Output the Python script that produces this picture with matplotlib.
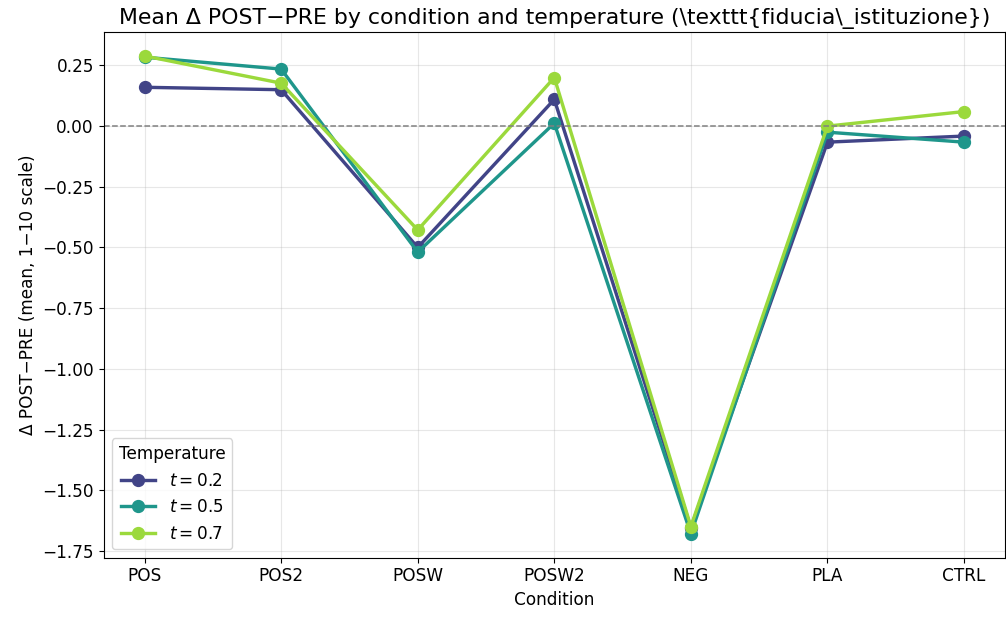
import matplotlib
matplotlib.use("Agg")
import matplotlib.pyplot as plt

conditions = ["POS", "POS2", "POSW", "POSW2", "NEG", "PLA", "CTRL"]
temps = ["0.2", "0.5", "0.7"]
delta_t02 = [0.16, 0.15, -0.50, 0.11, -1.655, -0.066, -0.041]
delta_t05 = [0.284, 0.235, -0.519, 0.012, -1.68, -0.025, -0.066]
delta_t07 = [0.289, 0.177, -0.428, 0.20, -1.65, 0.0, 0.06]
colors = ["#414487", "#1f968b", "#9bd93c"]

s = 1.22
plt.rcParams["font.size"] = 10 * s

fig, ax = plt.subplots(figsize=(10.06, 6.17), dpi=100)
fig.subplots_adjust(left=0.103, right=0.999, top=0.948, bottom=0.096)

x = list(range(len(conditions)))
for t, vals, c in zip(temps, [delta_t02, delta_t05, delta_t07], colors):
    ax.plot(x, vals, marker="o", color=c, lw=2.0 * s, markersize=7.0 * s,
            label=f"$t={t}$")

ax.axhline(0, color="gray", ls="--", lw=0.9 * s)
ax.set_xticks(x)
ax.set_xticklabels(conditions)
ax.grid(True, alpha=0.3)
ax.set_xlabel("Condition")
ax.set_ylabel("Δ POST−PRE (mean, 1−10 scale)")
ax.set_title("Mean Δ POST−PRE by condition and temperature (\\texttt{fiducia\\_istituzione})",
             fontsize=13 * s)
ax.legend(title="Temperature", loc="lower left")

fig.savefig("out.png", dpi=100)
